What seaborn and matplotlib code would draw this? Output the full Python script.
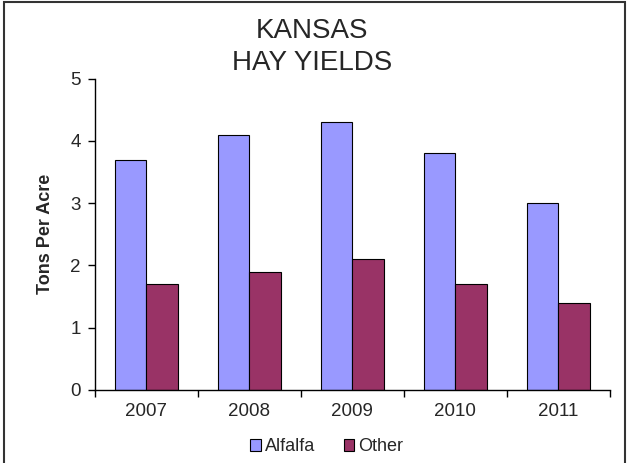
"""Kansas hay yields, alfalfa vs other hay."""

import matplotlib.pyplot as plt
import numpy as np
import pandas as pd
import seaborn as sns
from matplotlib.patches import Rectangle

years = ["2007", "2008", "2009", "2010", "2011"]
alfalfa = [3.7, 4.1, 4.3, 3.8, 3.0]
other = [1.7, 1.9, 2.1, 1.7, 1.4]

if __name__ == "__main__":
    sns.set_style("white")
    plt.rcParams["font.family"] = ["Liberation Sans", "DejaVu Sans"]

    df = pd.DataFrame(
        {
            "year": years * 2,
            "tons": alfalfa + other,
            "crop": ["Alfalfa"] * len(years) + ["Other"] * len(years),
        }
    )

    fig = plt.figure(figsize=(6.28, 4.63), dpi=100)
    ax = fig.add_axes([0.151, 0.158, 0.82, 0.672])
    sns.barplot(
        data=df,
        x="year",
        y="tons",
        hue="crop",
        palette={"Alfalfa": "#9999FF", "Other": "#993366"},
        width=0.61,
        edgecolor="black",
        linewidth=0.8,
        saturation=1,
        ax=ax,
    )

    ax.set_ylim(0, 5)
    ax.set_xlim(-0.5, 4.5)
    ax.set_yticks(range(6))
    ax.set_xlabel("")
    ax.set_ylabel("Tons Per Acre", fontsize=13, fontweight="bold", labelpad=12)
    sns.despine(ax=ax)
    for s in ["left", "bottom"]:
        ax.spines[s].set_color("black")
        ax.spines[s].set_linewidth(1.0)

    ax.tick_params(axis="y", left=True, direction="out", length=5, width=1,
                   labelsize=13.5, pad=5, color="black")
    ax.tick_params(axis="x", which="major", bottom=False, labelsize=13.5, pad=6)
    ax.set_xticks(np.arange(-0.5, 5, 1), minor=True)
    ax.tick_params(axis="x", which="minor", bottom=True, direction="out",
                   length=5, width=1, color="black")

    fig.text(0.497, 0.898, "KANSAS\nHAY YIELDS", ha="center", va="center",
             fontsize=20, linespacing=1.28)

    handles, labels = ax.get_legend_handles_labels()
    ax.legend(handles, labels, loc="center", bbox_to_anchor=(0.52, 0.035),
              bbox_transform=fig.transFigure, ncol=2, frameon=False,
              fontsize=13, handlelength=0.6, handleheight=0.6,
              handletextpad=0.2, columnspacing=1.6)

    fig.patches.append(Rectangle((0.007, -0.01), 0.988, 1.005,
                                 transform=fig.transFigure, fill=False,
                                 edgecolor="#333333", linewidth=1.5))

    plt.savefig("out.png", dpi=100)
